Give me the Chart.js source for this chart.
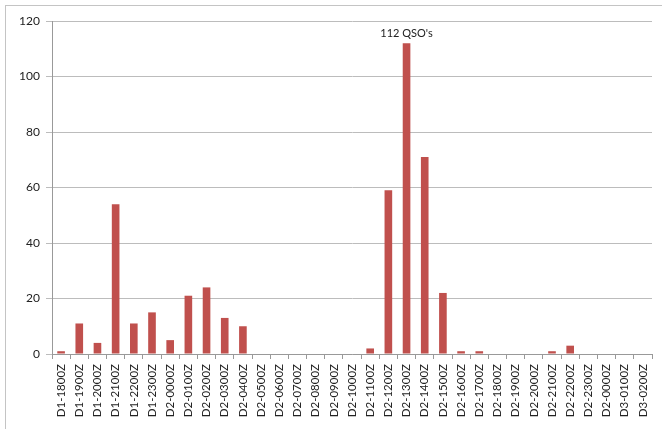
<!DOCTYPE html>
<html>
<head>
<meta charset="utf-8">
<script src="https://cdn.jsdelivr.net/npm/chart.js@4/dist/chart.umd.min.js"></script>
<style>
  html, body { margin: 0; padding: 0; background: #fff; overflow: hidden; }
  #frame { position: absolute; left: 5px; top: 5px; width: 700px; height: 500px; border: 1px solid #c4c4c4; }
  #wrap { position: absolute; left: 0; top: 0; width: 662px; height: 429px; }
</style>
</head>
<body>
<div id="frame"></div>
<div id="wrap"><canvas id="chart" width="662" height="429"></canvas></div>
<script>
// hourly slots (the D2-0000Z near the end is as in the original)
const hours = [
  'D1-1800Z', 'D1-1900Z', 'D1-2000Z', 'D1-2100Z', 'D1-2200Z', 'D1-2300Z',
  'D2-0000Z', 'D2-0100Z', 'D2-0200Z', 'D2-0300Z', 'D2-0400Z', 'D2-0500Z',
  'D2-0600Z', 'D2-0700Z', 'D2-0800Z', 'D2-0900Z', 'D2-1000Z', 'D2-1100Z',
  'D2-1200Z', 'D2-1300Z', 'D2-1400Z', 'D2-1500Z', 'D2-1600Z', 'D2-1700Z',
  'D2-1800Z', 'D2-1900Z', 'D2-2000Z', 'D2-2100Z', 'D2-2200Z', 'D2-2300Z',
  'D2-0000Z', 'D3-0100Z', 'D3-0200Z'
];

// QSOs per hour
const qsos = [
  1, 11, 4, 54, 11, 15,
  5, 21, 24, 13, 10, 0,
  0, 0, 0, 0, 0, 2,
  59, 112, 71, 22, 1, 1,
  0, 0, 0, 1, 3, 0,
  0, 0, 0
];

const yTicks = [0, 20, 40, 60, 80, 100, 120];
const peakNote = "112 QSO's";

const FONT = 'Lato, "Liberation Sans", sans-serif';

// writes the note above the tallest bar
const peakLabel = {
  id: 'peakLabel',
  afterDatasetsDraw(chart) {
    const meta = chart.getDatasetMeta(0);
    const peak = qsos.indexOf(Math.max(...qsos));
    const bar = meta.data[peak];
    const ctx = chart.ctx;
    ctx.save();
    ctx.font = '11px ' + FONT;
    ctx.fillStyle = '#222';
    ctx.textAlign = 'center';
    ctx.textBaseline = 'bottom';
    ctx.fillText(peakNote, bar.x, bar.y - 4);
    ctx.restore();
  }
};

new Chart(document.getElementById('chart'), {
  type: 'bar',
  data: {
    labels: hours,
    datasets: [{
      data: qsos,
      backgroundColor: '#c0504d',
      borderWidth: 0,
      barPercentage: 0.42,
      categoryPercentage: 1
    }]
  },
  options: {
    responsive: false,
    animation: false,
    layout: { padding: { left: 5, top: 21, right: 10, bottom: 0 } },
    plugins: {
      legend: { display: false },
      tooltip: { enabled: false }
    },
    scales: {
      x: {
        afterFit: s => { s.height = 75; },
        grid: {
          drawOnChartArea: false,
          drawTicks: true,
          tickLength: 5,
          color: '#999'
        },
        border: { color: '#999' },
        ticks: {
          autoSkip: false,
          minRotation: 90,
          maxRotation: 90,
          padding: 5,
          color: '#222',
          font: { family: FONT, size: 11.5 }
        }
      },
      y: {
        min: 0,
        max: 120,
        afterFit: s => { s.width = 47; },
        afterBuildTicks: s => { s.ticks = yTicks.map(v => ({ value: v })); },
        grid: {
          color: '#bcbcbc',
          tickLength: 6
        },
        border: { color: '#999' },
        ticks: {
          padding: 6,
          color: '#222',
          font: { family: FONT, size: 12 }
        }
      }
    }
  },
  plugins: [peakLabel]
});
</script>
</body>
</html>
